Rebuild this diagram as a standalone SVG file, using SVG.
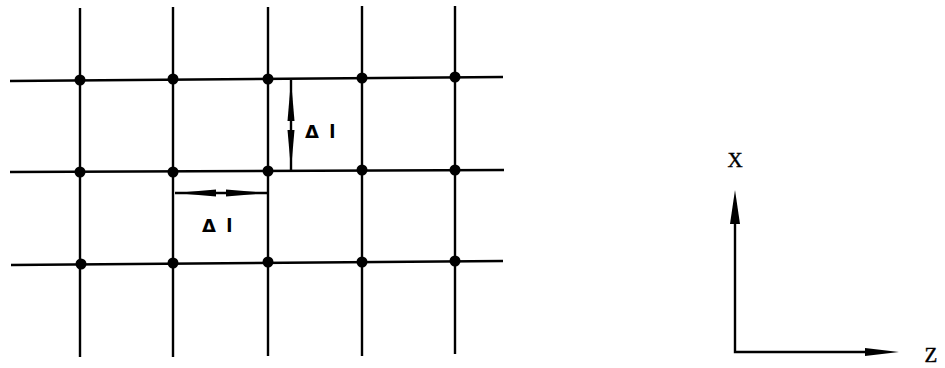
<svg xmlns="http://www.w3.org/2000/svg" width="945" height="368" viewBox="0 0 945 368">
<style>
.g{stroke:#000;stroke-width:2.4;fill:none;stroke-linecap:butt}
.d{fill:#000}
.lbl{font-family:"DejaVu Sans","Liberation Sans",sans-serif;font-size:18px;font-weight:bold;fill:#000;letter-spacing:2px}
.ax{font-family:"Liberation Serif","Times New Roman",serif;font-size:21px;fill:#000;stroke:#000;stroke-width:0.4}
</style>
<rect width="945" height="368" fill="#fff"/>
<g id="connectors">
<path class="g" d="M80 8V357M173 7V357M268 7V356M362 6V356M455 6V354"/>
<path class="g" d="M10 81L503 77M10 172L504 170M11 265L503 261"/>
</g>
<g id="nodes">
<circle class="d" cx="80" cy="80" r="5.5"/><circle class="d" cx="173" cy="79" r="5.5"/><circle class="d" cx="268" cy="79" r="5.5"/><circle class="d" cx="362" cy="78" r="5.5"/><circle class="d" cx="455" cy="77" r="5.5"/>
<circle class="d" cx="80" cy="172" r="5.5"/><circle class="d" cx="173" cy="172" r="5.5"/><circle class="d" cx="268" cy="171" r="5.5"/><circle class="d" cx="362" cy="170" r="5.5"/><circle class="d" cx="455" cy="170" r="5.5"/>
<circle class="d" cx="81" cy="264" r="5.5"/><circle class="d" cx="173" cy="263" r="5.5"/><circle class="d" cx="268" cy="262" r="5.5"/><circle class="d" cx="362" cy="262" r="5.5"/><circle class="d" cx="455" cy="261" r="5.5"/>
</g>
<g id="dim-vertical">
<line class="g" x1="291" y1="80" x2="291" y2="171" stroke-width="1.6"/>
<polygon class="d" points="291,80 294.5,121 287.5,121"/>
<polygon class="d" points="291,170 294.5,130 287.5,130"/>
<text class="lbl" x="305" y="138">Δ l</text>
</g>
<g id="dim-horizontal">
<line class="g" x1="175" y1="193" x2="268" y2="193" stroke-width="1.6"/>
<polygon class="d" points="175,193 216,189.5 216,196.5"/>
<polygon class="d" points="267,193 226,189.5 226,196.5"/>
<text class="lbl" x="202" y="232">Δ l</text>
</g>
<g id="axes">
<path class="g" d="M735 222V352H866"/>
<polygon class="d" points="735,190 740,224 730,224"/>
<polygon class="d" points="899,352 865,348 865,356"/>
<text class="ax" x="735" y="167" text-anchor="middle">X</text>
<text class="ax" x="931" y="362" text-anchor="middle">Z</text>
</g>
</svg>
